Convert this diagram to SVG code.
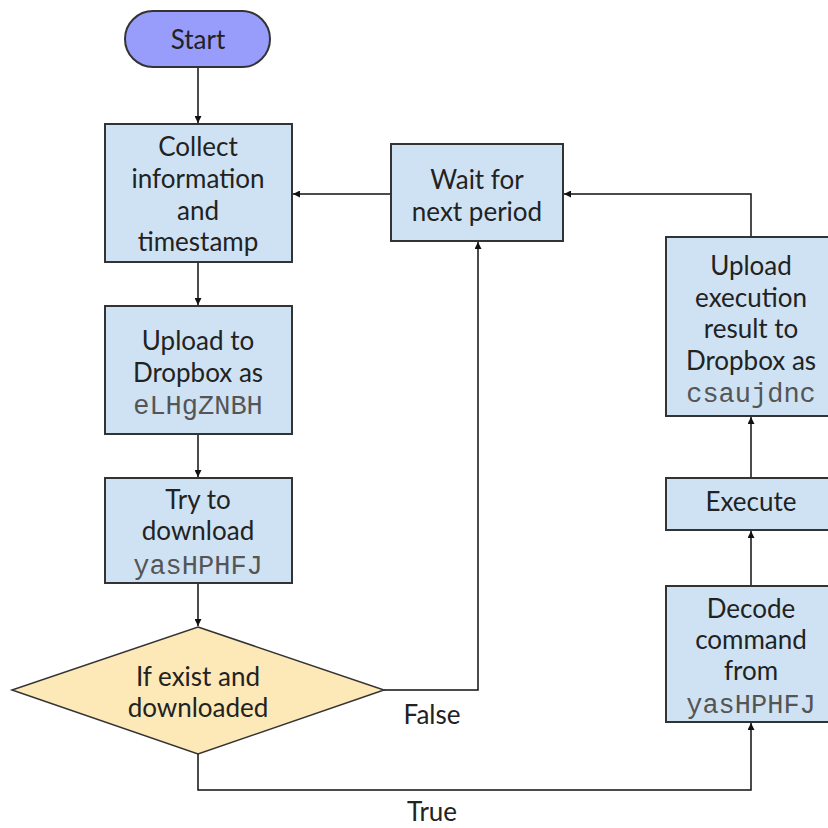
<svg xmlns="http://www.w3.org/2000/svg" width="828" height="828" viewBox="0 0 828 828">
<defs>
<style>
.box{fill:#cfe2f3;stroke:#333;stroke-width:2}
.t{font-family:Lato,"Noto Sans",sans-serif;font-size:26px;fill:#222;text-anchor:middle}
.m{font-family:"Liberation Mono",monospace;font-size:27px;fill:#555;text-anchor:middle}
.c{fill:none;stroke:#111;stroke-width:1.5}
</style>
<marker id="ah" viewBox="0 0 10 10" refX="10" refY="5" markerWidth="7" markerHeight="7" markerUnits="userSpaceOnUse" orient="auto">
<path d="M0,0 L10,5 L0,10 z" fill="#111"/>
</marker>
</defs>
<rect width="828" height="828" fill="#fff"/>
<g id="connectors">
<path class="c" d="M198,67 V123" marker-end="url(#ah)"/>
<path class="c" d="M198,262 V305" marker-end="url(#ah)"/>
<path class="c" d="M198,434 V477" marker-end="url(#ah)"/>
<path class="c" d="M198,583 V626" marker-end="url(#ah)"/>
<path class="c" d="M391,194 H293" marker-end="url(#ah)"/>
<path class="c" d="M384,690 H478 V242" marker-end="url(#ah)"/>
<path class="c" d="M198,754 V790 H751 V723" marker-end="url(#ah)"/>
<path class="c" d="M751,586 V531" marker-end="url(#ah)"/>
<path class="c" d="M751,478 V417" marker-end="url(#ah)"/>
<path class="c" d="M751,237 V194 H564" marker-end="url(#ah)"/>
<text class="t" x="432" y="724">False</text>
<text class="t" x="432" y="821">True</text>
</g>
<g id="start">
<rect x="125" y="11" width="145" height="56" rx="28" fill="#989dfb" stroke="#333" stroke-width="2"/>
<text class="t" x="198" y="49">Start</text>
</g>
<g id="collect">
<rect class="box" x="105" y="124" width="187" height="138"/>
<text class="t" x="198" y="156">Collect</text>
<text class="t" x="198" y="188">information</text>
<text class="t" x="198" y="220">and</text>
<text class="t" x="198" y="251">timestamp</text>
</g>
<g id="upload">
<rect class="box" x="105" y="306" width="187" height="128"/>
<text class="t" x="198" y="350">Upload to</text>
<text class="t" x="198" y="382">Dropbox as</text>
<text class="m" x="198" y="414">eLHgZNBH</text>
</g>
<g id="try">
<rect class="box" x="105" y="478" width="187" height="105"/>
<text class="t" x="198" y="509">Try to</text>
<text class="t" x="198" y="540">download</text>
<text class="m" x="198" y="574">yasHPHFJ</text>
</g>
<g id="decision">
<polygon points="198,627 384,690 198,754 12,690" fill="#fde8b7" stroke="#333" stroke-width="1.5"/>
<text class="t" x="198" y="686">If exist and</text>
<text class="t" x="198" y="717">downloaded</text>
</g>
<g id="wait">
<rect class="box" x="391" y="144" width="172" height="97"/>
<text class="t" x="477" y="189">Wait for</text>
<text class="t" x="477" y="221">next period</text>
</g>
<g id="uploadresult">
<rect class="box" x="666" y="237" width="164" height="179"/>
<text class="t" x="751" y="275">Upload</text>
<text class="t" x="751" y="307">execution</text>
<text class="t" x="751" y="338">result to</text>
<text class="t" x="751" y="370">Dropbox as</text>
<text class="m" x="751" y="402">csaujdnc</text>
</g>
<g id="execute">
<rect class="box" x="666" y="478" width="164" height="52"/>
<text class="t" x="751" y="511">Execute</text>
</g>
<g id="decode">
<rect class="box" x="666" y="586" width="164" height="136"/>
<text class="t" x="751" y="618">Decode</text>
<text class="t" x="751" y="649">command</text>
<text class="t" x="751" y="680">from</text>
<text class="m" x="751" y="713">yasHPHFJ</text>
</g>
</svg>
